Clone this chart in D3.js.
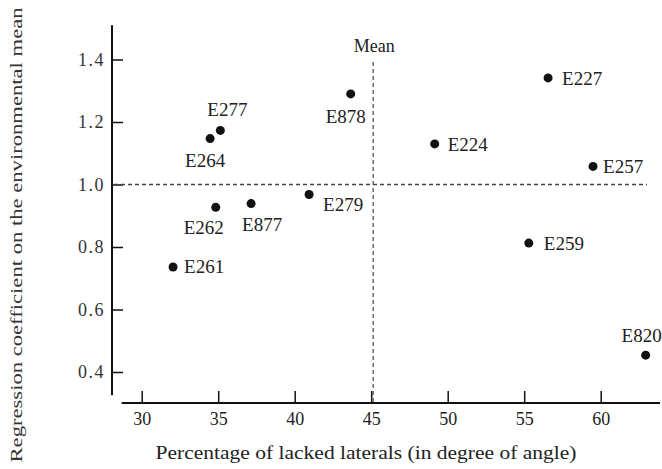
<!DOCTYPE html>
<html>
<head>
<meta charset="utf-8">
<script src="https://cdn.jsdelivr.net/npm/d3@7"></script>
<style>
  body { margin: 0; background: #fff; }
  text { font-family: "Liberation Serif", "DejaVu Serif", serif; fill: #222; }
</style>
</head>
<body>
<script>
//Chart size
const width = 662;
const height = 469;

//Data
const lines = ["E261", "E264", "E277", "E262", "E877", "E279", "E878", "E224", "E227", "E259", "E257", "E820"];
const lacked = [32.05, 34.47, 35.14, 34.84, 37.15, 40.94, 43.66, 49.15, 56.56, 55.3, 59.5, 62.94];
const regression = [0.736, 1.147, 1.173, 0.927, 0.939, 0.968, 1.29, 1.13, 1.341, 0.8125, 1.058, 0.454];
const xTicks = [30, 35, 40, 45, 50, 55, 60];
const yTicks = [0.4, 0.6, 0.8, 1.0, 1.2, 1.4];
const meanX = 45.13;
const meanY = 1.0;

//Label placement next to each dot [dx, dy, anchor]
const labelPos = {
    E227: [14, 7, "start"], E224: [13, 7, "start"], E257: [10, 7, "start"],
    E259: [15, 7, "start"], E261: [11, 6, "start"], E279: [14, 16, "start"],
    E878: [-5, 29, "middle"], E277: [7, -14, "middle"], E264: [-5, 28, "middle"],
    E262: [-12, 27, "middle"], E877: [11, 27, "middle"], E820: [16, -13, "end"]
};

const svg = d3.select("body")
    .append("svg")
    .attr("width", width)
    .attr("height", height);

//Scales
const x = d3.scaleLinear().domain([30, 60]).range([141.7, 600.7]);
const y = d3.scaleLinear().domain([0.4, 1.4]).range([372, 59.5]);

const xAxisY = 403;
const yAxisX = 112;

//Axis lines (extents in data units)
svg.append("line")
    .attr("x1", x(28.69)).attr("x2", x(63.88))
    .attr("y1", xAxisY).attr("y2", xAxisY)
    .style("stroke", "#111").style("stroke-width", 2);

svg.append("line")
    .attr("x1", yAxisX).attr("x2", yAxisX)
    .attr("y1", y(1.51)).attr("y2", y(0.326))
    .style("stroke", "#111").style("stroke-width", 2);

//Ticks via d3 axes, pointing inward
const xAxis = svg.append("g")
    .attr("transform", `translate(0,${xAxisY})`)
    .call(d3.axisBottom(x).tickValues(xTicks).tickSizeInner(-12).tickSizeOuter(0).tickPadding(24).tickFormat(d3.format("d")));
xAxis.select(".domain").remove();
xAxis.selectAll("line").style("stroke", "#111").style("stroke-width", 1.5);
xAxis.selectAll("text")
    .attr("dy", 0)
    .attr("y", 22)
    .style("font-size", "18px")
    .style("font-family", "'Liberation Serif', serif")
    .style("fill", "#222");

const yAxis = svg.append("g")
    .attr("transform", `translate(${yAxisX},0)`)
    .call(d3.axisLeft(y).tickValues(yTicks).tickSizeInner(-11).tickSizeOuter(0).tickPadding(7).tickFormat(d3.format(".1f")));
yAxis.select(".domain").remove();
yAxis.selectAll("line").style("stroke", "#111").style("stroke-width", 1.5);
yAxis.selectAll("text")
    .attr("x", -7)
    .attr("dy", "0.32em")
    .style("font-size", "18px")
    .style("letter-spacing", "1.5px")
    .style("font-family", "'Liberation Serif', serif")
    .style("fill", "#333");

//Mean reference lines
svg.append("line")
    .attr("x1", yAxisX + 2).attr("x2", x(63.03))
    .attr("y1", y(meanY)).attr("y2", y(meanY))
    .style("stroke", "#444").style("stroke-width", 1.3)
    .style("stroke-dasharray", "4,3");

svg.append("line")
    .attr("x1", x(meanX)).attr("x2", x(meanX))
    .attr("y1", y(1.392)).attr("y2", xAxisY)
    .style("stroke", "#555").style("stroke-width", 1.3)
    .style("stroke-dasharray", "4,3");

svg.append("text")
    .attr("x", x(meanX) + 1)
    .attr("y", y(1.392) - 10)
    .attr("text-anchor", "middle")
    .style("font-size", "18px")
    .text("Mean");

//Points
const points = lines.map((name, i) => ({ name: name, x: lacked[i], y: regression[i] }));

svg.append("g")
    .selectAll("circle")
    .data(points)
    .enter()
    .append("circle")
    .attr("cx", d => x(d.x))
    .attr("cy", d => y(d.y))
    .attr("r", 4.5)
    .style("fill", "#111");

svg.append("g")
    .selectAll("text")
    .data(points)
    .enter()
    .append("text")
    .attr("x", d => x(d.x) + labelPos[d.name][0])
    .attr("y", d => y(d.y) + labelPos[d.name][1])
    .attr("text-anchor", d => labelPos[d.name][2])
    .style("font-size", "19px")
    .text(d => d.name);

//Axis titles
svg.append("text")
    .attr("x", 366)
    .attr("y", 459)
    .attr("text-anchor", "middle")
    .attr("textLength", 421)
    .attr("lengthAdjust", "spacingAndGlyphs")
    .style("font-size", "18px")
    .text("Percentage of lacked laterals (in degree of angle)");

svg.append("text")
    .attr("transform", "translate(22,235) rotate(-90)")
    .attr("text-anchor", "middle")
    .attr("textLength", 455)
    .attr("lengthAdjust", "spacingAndGlyphs")
    .style("font-size", "17px")
    .style("fill", "#333")
    .text("Regression coefficient on the environmental mean");
</script>
</body>
</html>
